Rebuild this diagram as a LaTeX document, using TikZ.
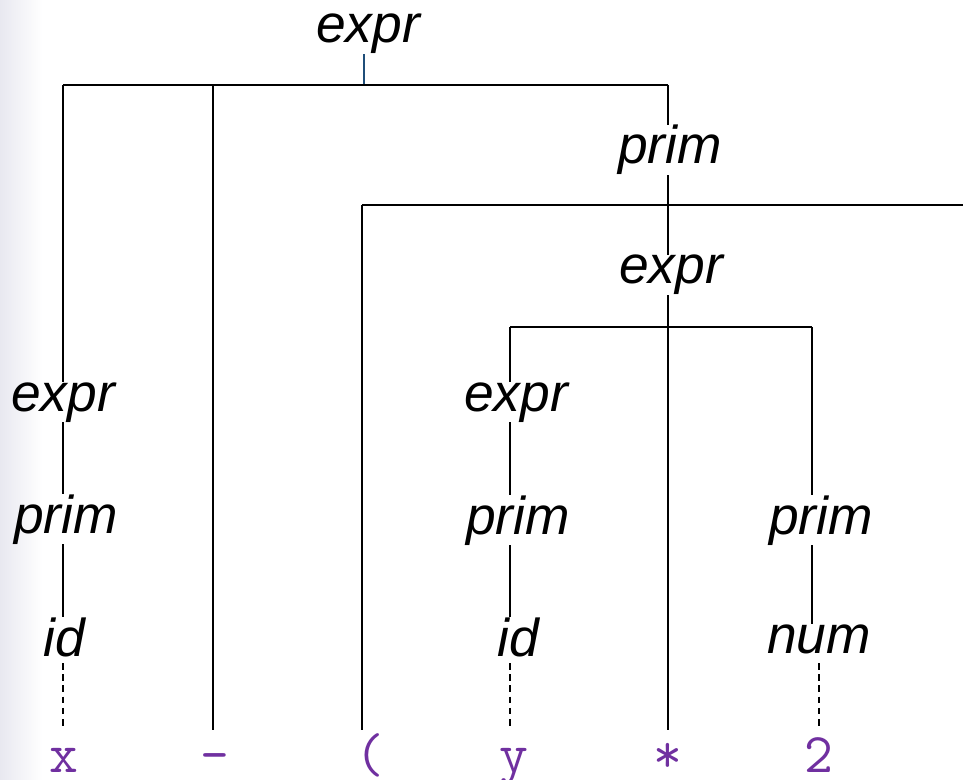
\documentclass[tikz,border=0pt]{standalone}
\usepackage{fontspec}
\setmainfont{Liberation Sans}
\definecolor{tokpurple}{RGB}{112,48,160}
\definecolor{stemblue}{RGB}{31,78,121}
\definecolor{bgl}{RGB}{232,232,240}
\tikzset{
  lbl/.style={font=\fontsize{40}{48}\selectfont\itshape, inner sep=0pt, anchor=base},
  tok/.style={font=\ttfamily\fontsize{42}{48}\selectfont, text=tokpurple, inner sep=0pt, anchor=base},
  edge/.style={line width=1.5pt, black},
  dedge/.style={line width=1.5pt, black, dash pattern=on 5pt off 3.4pt},
}
\begin{document}
\begin{tikzpicture}[x=0.75pt, y=-0.75pt]
\useasboundingbox (0,0) rectangle (963,780);
\shade[left color=bgl, right color=white] (0,0) rectangle (42,780);

% labels
\node[lbl] (e0) at (368,43) {expr};
\node[lbl] (p1) at (670,164) {prim};
\node[lbl] (e2) at (671,284) {expr};
\node[lbl] (e1) at (63,411) {expr};
\node[lbl] (pl) at (66,533) {prim};
\node[lbl] (il) at (64,656) {id};
\node[lbl] (e3) at (516,411) {expr};
\node[lbl] (pm) at (518,534) {prim};
\node[lbl] (im) at (518,656) {id};
\node[lbl] (pr) at (821,534) {prim};
\node[lbl] (nr) at (819,653) {num};

% tokens
\node[tok] (tx) at (64,772) {x};
\node[tok] (tm) at (215,772) {-};
\node[tok] (tp) at (370,772) {(};
\node[tok] (ty) at (514,772) {y};
\node[tok] (ts) at (668,772) {*};
\node[tok] (t2) at (819,772) {2};

% junction coordinates
\coordinate (s0) at (364,85);
\coordinate (b1L) at (63,85);
\coordinate (b1M) at (213,85);
\coordinate (b1R) at (668,85);
\coordinate (mEnd) at (213,730);
\coordinate (b2L) at (362,205);
\coordinate (b2R) at (963,205);
\coordinate (pEnd) at (362,730);
\coordinate (b3L) at (510,327);
\coordinate (b3R) at (812,327);
\coordinate (sEnd) at (668,730);
\coordinate (dxa) at (63,663);
\coordinate (dxb) at (63,727);
\coordinate (dya) at (510,663);
\coordinate (dyb) at (510,727);
\coordinate (d2a) at (819,663);
\coordinate (d2b) at (819,727);

% stem of root
\draw[line width=1.5pt, stemblue] (e0.south -| s0) -- (s0);
% top bar
\draw[edge] (b1L) -- (b1R);
\draw[edge] (b1L) -- (e1.north -| b1L);
\draw[edge] (b1M) -- (mEnd);
\draw[edge] (b1R) -- (p1.north -| b1R);
% second bar
\draw[edge] (b2L) -- (b2R);
\draw[edge] (b2L) -- (pEnd);
\draw[edge] (p1.south -| b1R) -- (e2.north -| b1R);
% third bar
\draw[edge] (b3L) -- (b3R);
\draw[edge] (e2.south -| b1R) -- (sEnd);
\draw[edge] (b3L) -- (e3.north -| b3L);
\draw[edge] (b3R) -- (pr.north -| b3R);
% left column
\draw[edge] (e1.south -| b1L) -- (pl.north -| b1L);
\draw[edge] (pl.south -| b1L) -- (il.north -| b1L);
\draw[dedge] (dxa) -- (dxb);
% middle column
\draw[edge] (e3.south -| b3L) -- (pm.north -| b3L);
\draw[edge] (pm.south -| b3L) -- (im.north -| b3L);
\draw[dedge] (dya) -- (dyb);
% right column
\draw[edge] (pr.south -| b3R) -- (nr.north -| b3R);
\draw[dedge] (d2a) -- (d2b);
\end{tikzpicture}
\end{document}
